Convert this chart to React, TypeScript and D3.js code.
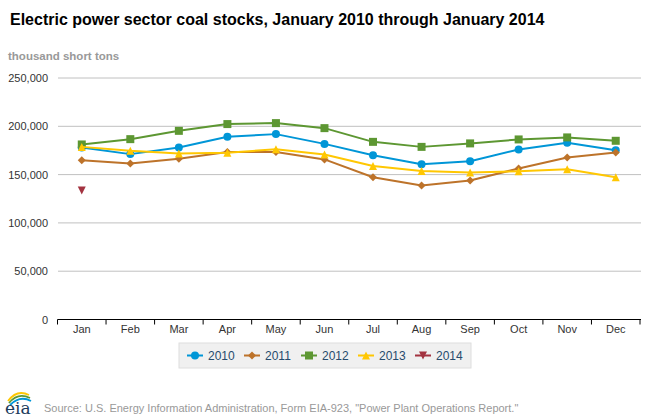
import React from "react";
import * as d3 from "d3";

const months = ["Jan", "Feb", "Mar", "Apr", "May", "Jun", "Jul", "Aug", "Sep", "Oct", "Nov", "Dec"];
const years = ["2010", "2011", "2012", "2013", "2014"];
const s2010 = [178100, 171200, 178100, 189100, 191900, 181800, 170100, 160800, 163900, 176000, 182900, 175300];
const s2011 = [164900, 161500, 166300, 173500, 173500, 165700, 147300, 138700, 143900, 156300, 167700, 172900];
const s2012 = [181200, 186700, 195300, 202300, 203300, 198100, 183900, 178700, 182300, 186400, 188500, 185000];
const s2013 = [178700, 174600, 171900, 172500, 176300, 170800, 159000, 153800, 152100, 153500, 155600, 147300];
const s2014 = [133500];
const yTicks = [0, 50000, 100000, 150000, 200000, 250000];

const seriesValues = [s2010, s2011, s2012, s2013, s2014];
const colors = ["#0096d7", "#bd732a", "#5d9732", "#ffc702", "#a33340"];
const symbols = ["circle", "diamond", "square", "triangle", "triangle-down"];

const W = 650;
const H = 420;
const FONT = "'Liberation Sans', Arial, Helvetica, sans-serif";

function symbolPath(type: string, cx: number, cy: number, r: number): string {
  const p = d3.path();
  if (type === "circle") {
    p.moveTo(cx + r, cy);
    p.arc(cx, cy, r, 0, Math.PI * 2);
  } else if (type === "diamond") {
    p.moveTo(cx, cy - r);
    p.lineTo(cx + r, cy);
    p.lineTo(cx, cy + r);
    p.lineTo(cx - r, cy);
    p.closePath();
  } else if (type === "square") {
    p.rect(cx - r, cy - r, 2 * r, 2 * r);
  } else if (type === "triangle") {
    p.moveTo(cx, cy - r);
    p.lineTo(cx + r, cy + r);
    p.lineTo(cx - r, cy + r);
    p.closePath();
  } else {
    p.moveTo(cx - r, cy - r);
    p.lineTo(cx + r, cy - r);
    p.lineTo(cx, cy + r);
    p.closePath();
  }
  return p.toString();
}

export default function App() {
  const x = d3.scaleBand<string>().domain(months).range([57.5, 640]);
  const y = d3.scaleLinear().domain([0, 250000]).range([319.5, 78]);
  const cx = (m: string) => (x(m) as number) + x.bandwidth() / 2;
  const fmt = d3.format(",");

  const line = d3
    .line<number>()
    .x((_, i) => cx(months[i]))
    .y((d) => y(d));

  const legendX0 = 195;
  const legendStep = 57;
  const legendY = 355.5;

  return (
    <svg
      width={W}
      height={H}
      style={{ position: "absolute", left: 0, top: 0, background: "#fff" }}
      fontFamily={FONT}
    >
      <rect x={0} y={0} width={W} height={H} fill="#fff" />
      <text x={10} y={25} fontSize={16} fontWeight="bold" fill="#000">
        Electric power sector coal stocks, January 2010 through January 2014
      </text>
      <text x={8} y={60} fontSize={11.5} fontWeight="bold" fill="#999">
        thousand short tons
      </text>

      {yTicks.map((t) => (
        <g key={t}>
          {t > 0 && (
            <line x1={58} x2={641} y1={y(t)} y2={y(t)} stroke="#c0c0c0" strokeWidth={1} />
          )}
          <text x={48} y={y(t) + 4} fontSize={11} textAnchor="end" fill="#333">
            {fmt(t)}
          </text>
        </g>
      ))}

      <line x1={57.5} x2={641} y1={y(0)} y2={y(0)} stroke="#000" strokeWidth={1} />
      {[...months.map((m) => x(m) as number), 640].map((t, i) => (
        <line key={i} x1={t} x2={t} y1={y(0)} y2={y(0) + 5} stroke="#000" strokeWidth={1} />
      ))}
      {months.map((m) => (
        <text key={m} x={cx(m)} y={333} fontSize={11} textAnchor="middle" fill="#333">
          {m}
        </text>
      ))}

      {seriesValues.map((vals, si) => (
        <g key={years[si]}>
          {vals.length > 1 && (
            <path d={line(vals) || ""} fill="none" stroke={colors[si]} strokeWidth={2} strokeLinejoin="round" />
          )}
          {vals.map((v, i) => (
            <path key={i} d={symbolPath(symbols[si], cx(months[i]), y(v), 4)} fill={colors[si]} />
          ))}
        </g>
      ))}

      <rect x={179} y={343} width={292} height={25} fill="#f0f0f0" stroke="#dedede" strokeWidth={1} />
      {years.map((yr, i) => {
        const mx = legendX0 + i * legendStep;
        return (
          <g key={yr}>
            <line x1={mx - 8} x2={mx + 8} y1={legendY} y2={legendY} stroke={colors[i]} strokeWidth={2} />
            <path d={symbolPath(symbols[i], mx, legendY, 4)} fill={colors[i]} />
            <text x={mx + 13} y={legendY + 4.5} fontSize={12} fill="#274b6d">
              {yr}
            </text>
          </g>
        );
      })}

      <g>
        <path d="M8,401 Q17,389 29,395" fill="none" stroke="#ffc702" strokeWidth={1.8} />
        <path d="M9,403 Q18,392 30,398" fill="none" stroke="#5d9732" strokeWidth={1.8} />
        <path d="M10,405 Q20,395 31,401" fill="none" stroke="#0096d7" strokeWidth={1.8} />
        <text x={5} y={414} fontSize={17} fontFamily="'DejaVu Serif', 'Liberation Serif', serif" fill="#1b3b5c">
          eia
        </text>
      </g>
      <text x={44} y={412} fontSize={11} fill="#999">
        Source: U.S. Energy Information Administration, Form EIA-923, "Power Plant Operations Report."
      </text>
    </svg>
  );
}
